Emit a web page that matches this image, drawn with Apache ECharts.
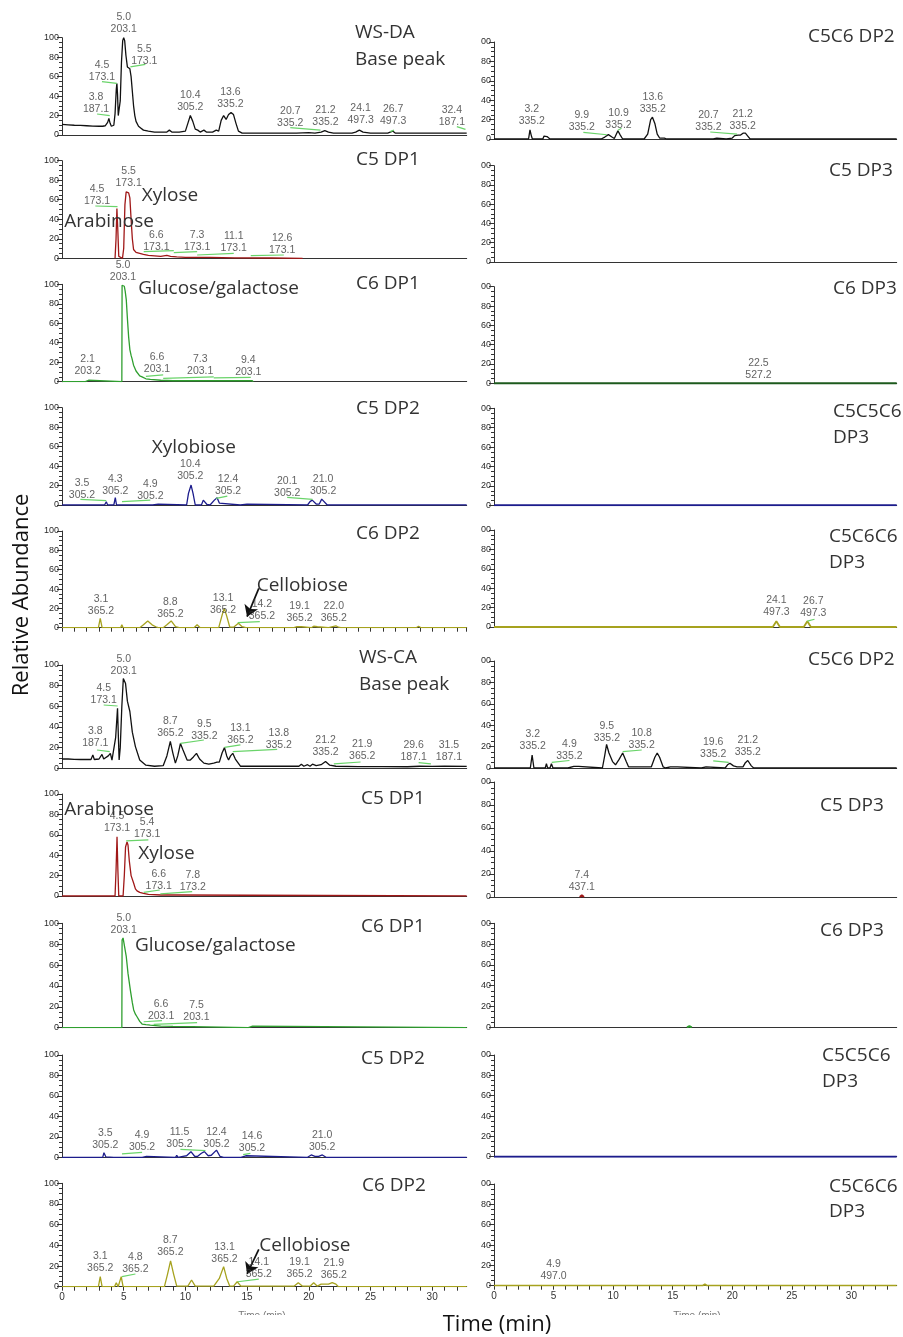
<!DOCTYPE html>
<html><head><meta charset="utf-8">
<script src="https://cdn.jsdelivr.net/npm/echarts@6/dist/echarts.min.js"></script>
<style>html,body{margin:0;padding:0;background:#fff}#c{width:903px;height:1337px}</style>
</head><body><div id="c"></div>
<script>
// ================= DATA (time in min, relative abundance %) =================
// ---- WS-DA (top half) ----
const daBase = [[0,11],[0.5,10.5],[1,10],[1.5,9.8],[2,9.5],[2.5,9.2],[3,9],[3.3,9],[3.4,11],[3.5,9.5],[3.6,10],[3.7,13],[3.8,17],[3.9,12],[4.0,9],[4.2,10],[4.3,22],[4.4,47],[4.45,53],[4.5,42],[4.56,20],[4.62,19],[4.72,35],[4.82,75],[4.92,97],[5.0,100],[5.08,97],[5.18,82],[5.3,70],[5.4,69],[5.5,68],[5.6,60],[5.7,45],[5.8,30],[5.9,20],[6.0,14],[6.2,9],[6.4,7],[6.6,5],[7,4],[7.5,3],[8,3],[8.5,3],[8.7,5],[8.9,3],[9.5,3],[10,4],[10.2,12],[10.4,20],[10.6,14],[10.8,6],[11,5],[11.2,3],[11.5,5],[11.7,3],[12.2,3],[12.5,5],[12.7,4],[12.9,15],[13.1,20],[13.3,16],[13.5,21],[13.7,23],[13.9,21],[14.1,12],[14.3,4],[14.6,2],[15,2],[17,2],[19,2],[20,2.5],[20.5,2],[21,3],[21.3,4.5],[21.6,3],[22,2],[23.5,2],[23.8,3],[24.1,5],[24.4,3],[25,2],[26.4,2],[26.6,3],[26.8,4],[27,2],[29,2],[31,2],[32.8,2]];
const daBaseLabels = [[2.76,32.5,'3.8\n187.1'],[3.24,66,'4.5\n173.1'],[5.0,115,'5.0\n203.1'],[6.67,82.5,'5.5\n173.1'],[10.4,35.3,'10.4\n305.2'],[13.65,38.4,'13.6\n335.2'],[18.5,18.2,'20.7\n335.2'],[21.35,19.9,'21.2\n335.2'],[24.2,21.2,'24.1\n497.3'],[26.84,20.2,'26.7\n497.3'],[31.6,19.5,'32.4\n187.1']];
const daBaseLeaders = [[3.24,54.8,4.45,53],[2.84,21.6,3.87,19.9],[5.54,70,6.76,72.6],[18.5,7.5,20.95,5.1],[26.6,3.5,26.9,5],[32.0,8.6,32.7,5.8]];

const daC5DP1 = [[4.3,0],[4.38,20],[4.45,51],[4.52,30],[4.6,2],[4.75,0],[4.9,0],[5.0,10],[5.1,55],[5.2,68],[5.3,70],[5.4,67],[5.5,62],[5.6,40],[5.7,20],[5.8,9],[6.0,6],[6.3,5],[6.6,4],[7,3],[7.5,2.5],[8,2],[8.5,3],[8.8,2],[9.3,1.5],[10,1],[12,1],[14,0.5],[17,0.3],[19.5,0]];
const daC5DP1Labels = [[2.84,64.8,'4.5\n173.1'],[5.4,82.9,'5.5\n173.1'],[7.65,17.7,'6.6\n173.1'],[10.95,17.7,'7.3\n173.1'],[13.92,16.4,'11.1\n173.1'],[17.84,15,'12.6\n173.1']];
const daC5DP1Leaders = [[2.7,53.6,4.5,52.9],[6.62,6.8,9.06,7.8],[9.06,5.8,10.95,6.8],[10.95,3.4,13.92,5.1],[15.3,2.7,17.98,3.4]];

const daC6DP1 = [[0,0],[1.9,0],[2.0,1.5],[2.15,1.5],[2.25,0],[4.85,0],[4.87,99],[4.95,100],[5.05,98],[5.12,93],[5.21,84],[5.3,65],[5.4,46],[5.5,33],[5.6,27],[5.67,24],[5.8,17],[6.0,11],[6.08,10],[6.3,6],[6.49,5],[6.8,3],[7.16,2.4],[8,1.5],[9,1],[10,1.2],[12,1],[14,1],[15.4,1.2],[15.5,0]];
const daC6DP1Labels = [[4.94,114,'5.0\n203.1'],[2.08,17.1,'2.1\n203.2'],[7.7,18.8,'6.6\n203.1'],[11.2,17.5,'7.3\n203.1'],[15.1,16.4,'9.4\n203.1']];
const daC6DP1Leaders = [[6.8,5.5,8.2,7],[8.2,3.5,12.3,5],[12.3,4,15.3,4.5]];

const daC5DP2 = [[0,0],[3.45,0],[3.59,3.4],[3.7,0],[4.2,0],[4.32,7.5],[4.42,0],[6.65,0],[6.76,2],[6.87,0],[7.35,0],[7.4,1],[7.8,1],[7.85,0],[10.1,0],[10.25,12],[10.46,20.5],[10.62,12],[10.8,0],[11.3,0],[11.45,5],[11.57,6],[11.75,0.5],[12.0,0],[12.35,5],[12.57,7.5],[12.75,2],[12.9,0],[14.45,0],[14.5,1],[15.0,1],[15.05,0],[19.9,0],[20.1,3.5],[20.28,5],[20.6,1],[20.85,1],[21.05,6],[21.2,8],[21.5,0],[32.8,0]];
const daC5DP2Labels = [[1.62,16.8,'3.5\n305.2'],[4.32,20.9,'4.3\n305.2'],[7.16,15.8,'4.9\n305.2'],[10.4,36,'10.4\n305.2'],[13.46,20.2,'12.4\n305.2'],[18.25,18.2,'20.1\n305.2'],[21.16,20.9,'21.0\n305.2']];
const daC5DP2Leaders = [[1.49,5.8,3.59,4.5],[4.86,3.4,7.16,5.1],[12.5,6.8,13.4,9.2],[18.25,7.9,20.3,5.8]];

const daC6DP2 = [[0,0],[2.95,0],[3.1,9.7],[3.25,0],[4.3,0],[4.4,2],[4.5,0],[4.75,0],[4.85,3],[4.95,0],[6.3,0],[6.6,3],[6.95,7],[7.3,3],[7.6,1],[7.8,0],[8.2,0],[8.5,3],[8.85,7],[9.2,1],[9.5,0],[10.7,0],[10.95,3],[11.2,0],[12.7,0],[13.0,14],[13.15,20],[13.35,12],[13.6,0.5],[13.9,0.5],[14.3,4.5],[14.6,1],[14.9,0],[18.8,0],[19.0,1],[19.4,1],[19.5,0],[20.2,0],[20.4,1.5],[20.7,1],[20.8,0],[21.6,0],[21.7,1.5],[22.2,2],[22.4,0.5],[22.6,0],[28.7,0],[28.9,1.5],[29.1,0],[32.8,0]];
const daC6DP2Labels = [[3.16,23.4,'3.1\n365.2'],[8.78,20.7,'8.8\n365.2'],[13.05,24.1,'13.1\n365.2'],[16.2,18.3,'14.2\n365.2'],[19.25,15.9,'19.1\n365.2'],[22.03,16.6,'22.0\n365.2']];
const daC6DP2Leaders = [[14.24,5.2,16.03,6.2]];
const daC6DP2Arrow = [15.95,40.7,15.0,11.4];

const daC5C6DP2 = [[0,0],[2.9,0],[3.02,9.5],[3.12,4],[3.22,0],[3.3,1],[3.4,0],[4.1,0],[4.2,3],[4.3,1],[4.45,2.5],[4.6,1],[4.7,0],[9.0,0],[9.3,2],[9.6,4.5],[9.9,2],[10.1,0.5],[10.4,8.5],[10.6,4],[10.8,0],[12.6,0],[12.9,5],[13.15,20],[13.3,22.5],[13.5,16],[13.7,5],[13.9,1],[14.3,1],[14.5,0],[18.4,0],[18.5,1],[18.7,1],[18.8,0],[19.5,0],[20.0,1],[20.2,3.5],[20.5,4],[20.7,4],[20.9,6],[21.1,6],[21.3,3],[21.5,0],[33.8,0]];
const daC5C6DP2Labels = [[3.17,24.2,'3.2\n335.2'],[7.37,18,'9.9\n335.2'],[10.45,21,'10.9\n335.2'],[13.33,36.9,'13.6\n335.2'],[18.0,18.8,'20.7\n335.2'],[20.87,19.8,'21.2\n335.2']];
const daC5C6DP2Leaders = [[7.5,6.8,9.47,4.4],[10.4,9,10.7,11],[18.15,7.2,20.4,5.1]];
const daC5DP3 = [];
const daC6DP3 = [[0,0],[33.8,0]];
const daC6DP3Labels = [[22.2,14.5,'22.5\n527.2']];
const daC5C5C6DP3 = [[0,0],[33.8,0]];
const daC5C6C6DP3 = [[0,0],[23.4,0],[23.7,6],[24.0,0],[26.0,0],[26.3,6],[26.6,0],[33.8,0]];
const daC5C6C6DP3Labels = [[23.7,21.8,'24.1\n497.3'],[26.8,21,'26.7\n497.3']];
const daC5C6C6DP3Leaders = [[26.3,6,26.9,8]];

// ---- WS-CA (bottom half) ----
const caBase = [[0,9],[0.5,9],[1,8.7],[1.5,8.5],[2,8.5],[2.35,8.5],[2.5,13],[2.62,8.5],[3.0,9],[3.24,13.5],[3.38,9],[3.5,8],[3.75,12],[3.92,14.5],[4.05,8],[4.2,9],[4.35,30],[4.5,58],[4.57,30],[4.63,8],[4.72,20],[4.85,60],[4.97,87],[5.05,86],[5.15,82],[5.3,65],[5.5,55],[5.7,35],[5.95,21],[6.3,8],[6.8,3],[7.5,2],[8.2,2.5],[8.5,12],[8.78,26],[8.98,15],[9.19,5],[9.38,12],[9.6,24],[9.8,18],[10.14,8],[10.4,8],[10.65,11],[10.9,14.5],[11.15,9],[11.5,5],[11.9,4],[12.3,5],[12.57,6],[12.75,6],[12.98,15],[13.17,20],[13.35,12],[13.5,8],[13.66,12],[13.84,14.5],[14.05,9],[14.46,2],[14.8,2],[16,2],[18,2],[19.2,2],[19.4,4],[19.6,2],[19.9,3.5],[20.1,2],[20.3,4],[20.6,2.5],[21.0,3.5],[21.36,6.5],[21.7,3],[22.2,2],[24,1.7],[26,1.7],[28,1.5],[29,2],[30,1.8],[31,2],[32.8,1.8]];
const caBaseLabels = [[2.7,30.6,'3.8\n187.1'],[3.38,71.9,'4.5\n173.1'],[5.0,99.7,'5.0\n203.1'],[8.78,39.4,'8.7\n365.2'],[11.54,36.5,'9.5\n335.2'],[14.46,33.2,'13.1\n365.2'],[17.57,28.4,'13.8\n335.2'],[21.36,21,'21.2\n335.2'],[24.33,17.4,'21.9\n365.2'],[28.5,16.8,'29.6\n187.1'],[31.36,16.8,'31.5\n187.1']];
const caBaseLeaders = [[3.38,61.3,4.51,60.3],[2.84,17.7,3.87,16.1],[9.6,24.2,11.5,27.4],[13.17,20.3,14.46,22.6],[13.84,16.1,17.44,18.4],[22.03,4.2,24.2,6.1],[28.9,5.5,29.9,4.2]];

const caC5DP1 = [[0,0],[4.3,0],[4.38,25],[4.46,58],[4.53,25],[4.6,0],[4.95,0],[5.05,20],[5.15,48],[5.27,53],[5.35,50],[5.45,35],[5.6,20],[5.81,12.5],[5.95,7],[6.08,5],[6.3,3.5],[6.6,2.6],[7,1.5],[8,1],[9.3,1],[9.4,0],[32.8,0]];
const caC5DP1Labels = [[4.46,72,'4.5\n173.1'],[6.9,66.7,'5.4\n173.1'],[7.84,16,'6.6\n173.1'],[10.6,14.5,'7.8\n173.2']];
const caC5DP1Leaders = [[5.2,54,7.0,55],[6.62,3.6,7.92,5.9],[7.97,2,10.55,4.2]];

const caC6DP1 = [[0,0],[4.85,0],[4.87,84],[4.95,86],[5.08,85],[5.21,68],[5.35,52],[5.54,36],[5.7,24],[5.81,17],[5.95,13],[6.08,10.5],[6.3,6],[6.49,3.5],[6.8,3],[7.16,2.5],[8,1.5],[9,1.2],[10.6,1],[10.7,0],[15.1,0],[15.25,1.5],[15.45,1.5],[15.6,0],[32.8,0]];
const caC6DP1Labels = [[5.0,99.5,'5.0\n203.1'],[8.03,17.2,'6.6\n203.1'],[10.9,15.7,'7.5\n203.1']];
const caC6DP1Leaders = [[6.62,5.7,8.1,6.7],[7.43,3.2,10.95,4.8]];

const caC5DP2 = [[0,0],[2.45,0],[2.55,1.5],[2.65,0],[3.3,0],[3.4,4.5],[3.55,0.5],[3.7,0.5],[4.2,0],[4.3,1.5],[4.4,0],[4.75,0],[4.85,1],[4.95,0],[6.5,0],[6.65,1],[6.85,1],[7.0,0],[9.2,0],[9.3,2],[9.4,0],[9.8,1],[10.1,1.5],[10.45,5.5],[10.75,1],[11.0,1],[11.3,4],[11.54,5.5],[11.85,1.5],[12.1,2],[12.52,7],[12.8,1],[13.1,0],[14.5,0],[14.6,1.5],[14.9,1.5],[15.0,0],[19.9,0],[20.2,2.3],[20.5,1],[20.8,1],[21.1,2.3],[21.4,0],[32.8,0]];
const caC5DP2Labels = [[3.51,18.1,'3.5\n305.2'],[6.49,15.6,'4.9\n305.2'],[9.52,18.6,'11.5\n305.2'],[12.52,19.2,'12.4\n305.2'],[15.4,14.8,'14.6\n305.2'],[21.08,16.1,'21.0\n305.2']];
const caC5DP2Leaders = [[4.86,3.3,6.49,4.9],[9.6,7.8,11.63,6.5],[14.68,2.6,15.27,3.9]];

const caC6DP2 = [[0,0],[2.95,0],[3.1,9.7],[3.25,0],[4.25,0],[4.4,3.9],[4.55,0],[4.7,0],[4.8,9.7],[4.95,0],[6.9,0],[7.0,1],[7.15,0],[8.3,0],[8.55,12],[8.8,25],[9.05,12],[9.3,0.5],[10.2,0.5],[10.5,6.5],[10.8,0.5],[11.5,0.5],[12.3,0.5],[12.75,8],[13.1,19.4],[13.35,8],[13.6,0.5],[13.9,0.5],[14.2,4.8],[14.5,0.5],[18.8,0.5],[19.15,3.9],[19.5,0.5],[20.1,0.5],[20.4,3.9],[20.7,0.5],[21.0,2.5],[21.6,2.5],[21.9,4],[22.2,2.5],[22.4,0],[32.8,0]];
const caC6DP2Labels = [[3.1,23.4,'3.1\n365.2'],[5.95,22.6,'4.8\n365.2'],[8.78,39.5,'8.7\n365.2'],[13.17,32.9,'13.1\n365.2'],[15.95,17.7,'14.1\n365.2'],[19.25,18.2,'19.1\n365.2'],[22.03,17.3,'21.9\n365.2']];
const caC6DP2Leaders = [[4.86,9.7,5.95,12.3],[14.24,4.8,15.95,7.4]];
const caC6DP2Arrow = [15.95,36,15.0,12.3];

const caC5C6DP2 = [[0,0],[2.4,0],[2.5,1],[2.6,0],[3.05,0],[3.2,12],[3.35,0],[4.3,0],[4.4,4],[4.5,0],[4.7,0],[4.82,4],[4.95,0],[6.2,0],[6.3,1.5],[6.7,1.5],[6.8,0],[6.9,1.5],[7.1,1.5],[7.2,0],[9.1,0],[9.3,12],[9.45,22],[9.65,14],[9.95,6],[10.2,3],[10.5,8],[10.8,14],[11.1,6],[11.3,1],[13.2,1],[13.5,10],[13.7,14],[13.9,10],[14.2,1],[14.4,0],[14.8,1],[15.4,1],[15.5,0],[17.4,0],[17.5,1],[17.8,1],[17.9,0],[19.4,0],[19.6,3],[19.8,4.5],[20.1,2],[20.4,1],[20.9,1],[21.1,5],[21.3,7],[21.6,2],[21.8,0],[33.8,0]];
const caC5C6DP2Labels = [[3.25,25.7,'3.2\n335.2'],[6.33,16.5,'4.9\n335.2'],[9.47,33.6,'9.5\n335.2'],[12.4,26.9,'10.8\n335.2'],[18.4,18.7,'19.6\n335.2'],[21.3,20.2,'21.2\n335.2']];
const caC5C6DP2Leaders = [[4.85,5.2,6.33,7],[10.8,15.3,12.4,16.8],[18.4,6.7,19.7,5.2]];
const caC5DP3 = [[7.2,0],[7.37,1.5],[7.55,0]];
const caC5DP3Labels = [[7.37,13.9,'7.4\n437.1']];
const caC6DP3 = [[16.2,0],[16.4,1.2],[16.6,0]];
const caC5C5C6DP3 = [[0,0],[33.8,0]];
const caC5C6C6DP3 = [[0,0],[17.5,0],[17.7,1.5],[17.9,0],[33.8,0]];
const caC5C6C6DP3Labels = [[5.0,15,'4.9\n497.0']];

const yTicks = [0,20,40,60,80,100];
const xTickLabels = [0,5,10,15,20,25,30];

// ================= LAYOUT / STYLE =================
const BLACK='#111', RED='#a01818', GREEN='#2f9f2f', BLUE='#1c1c8c', OLIVE='#a6a21e', DKGREEN='#1d5a1d', LEADER='#6ad46a';
const leftRows  = [[37.7,135],[160.7,258.3],[284.3,381.7],[407.7,505],[531,627.7],[665,768.3],[794,896],[923.3,1027.7],[1055,1157.3],[1183.3,1286.7]];
const rightRows = [[42,139],[165.7,262],[286.7,383.3],[408.3,505.3],[530,627],[661,768],[782,897],[923.3,1027.3],[1055,1156.7],[1184,1285.7]];
const LEFT_X=62, LEFT_W=404.7, LEFT_MAX=32.8, RIGHT_X=494, RIGHT_W=402.7, RIGHT_MAX=33.8;

const panels = [
 {c:0,r:0,d:daBase,col:BLACK,lab:daBaseLabels,ld:daBaseLeaders,title:['WS-DA','Base peak'],tx:355,ty:[32.5,60]},
 {c:0,r:1,d:daC5DP1,col:RED,lab:daC5DP1Labels,ld:daC5DP1Leaders,title:['C5 DP1'],tx:356,ty:[160]},
 {c:0,r:2,d:daC6DP1,col:GREEN,lab:daC6DP1Labels,ld:daC6DP1Leaders,title:['C6 DP1'],tx:356,ty:[284]},
 {c:0,r:3,d:daC5DP2,col:BLUE,lab:daC5DP2Labels,ld:daC5DP2Leaders,title:['C5 DP2'],tx:356,ty:[409]},
 {c:0,r:4,d:daC6DP2,col:OLIVE,lab:daC6DP2Labels,ld:daC6DP2Leaders,arrow:daC6DP2Arrow,title:['C6 DP2'],tx:356,ty:[534],ticks:true},
 {c:0,r:5,d:caBase,col:BLACK,lab:caBaseLabels,ld:caBaseLeaders,title:['WS-CA','Base peak'],tx:359,ty:[658,685]},
 {c:0,r:6,d:caC5DP1,col:RED,lab:caC5DP1Labels,ld:caC5DP1Leaders,title:['C5 DP1'],tx:361,ty:[799]},
 {c:0,r:7,d:caC6DP1,col:GREEN,lab:caC6DP1Labels,ld:caC6DP1Leaders,title:['C6 DP1'],tx:361,ty:[927]},
 {c:0,r:8,d:caC5DP2,col:BLUE,lab:caC5DP2Labels,ld:caC5DP2Leaders,title:['C5 DP2'],tx:361,ty:[1059]},
 {c:0,r:9,d:caC6DP2,col:OLIVE,lab:caC6DP2Labels,ld:caC6DP2Leaders,arrow:caC6DP2Arrow,title:['C6 DP2'],tx:362,ty:[1186],ticks:true,xlab:true},
 {c:1,r:0,d:daC5C6DP2,col:BLACK,lab:daC5C6DP2Labels,ld:daC5C6DP2Leaders,title:['C5C6 DP2'],tx:808,ty:[37]},
 {c:1,r:1,d:daC5DP3,col:RED,lab:[],ld:[],title:['C5 DP3'],tx:829,ty:[171]},
 {c:1,r:2,d:daC6DP3,col:DKGREEN,lab:daC6DP3Labels,ld:[],title:['C6 DP3'],tx:833,ty:[289],lw:2.2},
 {c:1,r:3,d:daC5C5C6DP3,col:BLUE,lab:[],ld:[],title:['C5C5C6','DP3'],tx:833,ty:[412,438],lw:2},
 {c:1,r:4,d:daC5C6C6DP3,col:OLIVE,lab:daC5C6C6DP3Labels,ld:daC5C6C6DP3Leaders,title:['C5C6C6','DP3'],tx:829,ty:[537,563],lw:1.8},
 {c:1,r:5,d:caC5C6DP2,col:BLACK,lab:caC5C6DP2Labels,ld:caC5C6DP2Leaders,title:['C5C6 DP2'],tx:808,ty:[660]},
 {c:1,r:6,d:caC5DP3,col:RED,lab:caC5DP3Labels,ld:[],title:['C5 DP3'],tx:820,ty:[806],lw:2},
 {c:1,r:7,d:caC6DP3,col:GREEN,lab:[],ld:[],title:['C6 DP3'],tx:820,ty:[931],lw:2},
 {c:1,r:8,d:caC5C5C6DP3,col:BLUE,lab:[],ld:[],title:['C5C5C6','DP3'],tx:822,ty:[1056,1082],lw:2},
 {c:1,r:9,d:caC5C6C6DP3,col:OLIVE,lab:caC5C6C6DP3Labels,ld:[],title:['C5C6C6','DP3'],tx:829,ty:[1187,1212],ticks:true,xlab:true,lw:1.8}
];
const nameTags = [
 ['Xylose',141.7,195.7],['Arabinose',64.3,221.7],['Glucose/galactose',138.3,288.5],['Xylobiose',151.7,447.5],['Cellobiose',256.7,585.7],
 ['Arabinose',64.3,809.5],['Xylose',138.3,854],['Glucose/galactose',135,946],['Cellobiose',259.3,1246]
];

const TITLE_FONT = '19px "Open Sans", "Noto Sans", sans-serif';
const SMALL_FONT = '"Liberation Sans", Arial, sans-serif';

const grid=[], xAxis=[], yAxis=[], series=[], graphics=[];
panels.forEach((p,i)=>{
  const rows = p.c===0 ? leftRows : rightRows;
  const [top,bot] = rows[p.r];
  grid.push({left: p.c===0?LEFT_X:RIGHT_X, top: top, width: p.c===0?LEFT_W:RIGHT_W, height: bot-top, containLabel:false});
  xAxis.push({type:'value', gridIndex:i, min:0, max: p.c===0?LEFT_MAX:RIGHT_MAX, interval:1,
    axisLine:{show:true,onZero:false,lineStyle:{color:'#333',width:1}},
    axisTick:{show:!!p.ticks,length:4,lineStyle:{color:'#333',width:1}},
    axisLabel:{show:!!p.xlab,fontSize:10,color:'#333',margin:6,fontFamily:SMALL_FONT,showMaxLabel:false,
      formatter:v=> xTickLabels.indexOf(v)>=0 ? String(v) : ''},
    splitLine:{show:false}});
  yAxis.push({type:'value', gridIndex:i, min:0, max:100, interval:20,
    axisLine:{show:true,lineStyle:{color:'#333',width:1}},
    axisTick:{show:true,length:5,lineStyle:{color:'#333'}},
    minorTick:{show:true,splitNumber:4,length:3,lineStyle:{color:'#333'}},
    axisLabel:{fontSize:9,color:'#2a2a2a',margin:3,fontFamily:SMALL_FONT,
      formatter:v=> (p.c===1 && v===100) ? '00' : (yTicks.indexOf(v)>=0? String(v):'')},
    splitLine:{show:false}});
  series.push({type:'line', xAxisIndex:i, yAxisIndex:i, data:p.d, showSymbol:false, symbol:'none',
    lineStyle:{color:p.col,width:p.lw||1.3}, itemStyle:{color:p.col}, silent:true, animation:false, z:3,
    markLine: p.ld.length ? {silent:true, symbol:['none','none'], animation:false, label:{show:false},
      lineStyle:{color:LEADER,width:1.2,type:'solid'},
      data:p.ld.map(l=>[{coord:[l[0],l[1]]},{coord:[l[2],l[3]]}])} : undefined});
  series.push({type:'scatter', xAxisIndex:i, yAxisIndex:i, clip:false, symbolSize:0, silent:true, animation:false, z:6,
    data:p.lab.map(l=>({value:[l[0],l[1]],name:l[2]})),
    label:{show:true,position:'inside',formatter:q=>q.name,fontSize:10.5,lineHeight:12,color:'#3a3a3a',fontFamily:SMALL_FONT}});
  if (p.arrow) {
    series.push({type:'line', xAxisIndex:i, yAxisIndex:i, data:[], silent:true, animation:false, z:7,
      markLine:{silent:true, symbol:['none','arrow'], symbolSize:11, animation:false, label:{show:false},
        itemStyle:{color:'#111'}, lineStyle:{color:'#111',width:1.7,type:'solid'},
        data:[[{coord:[p.arrow[0],p.arrow[1]]},{coord:[p.arrow[2],p.arrow[3]]}]]}});
  }
  p.title.forEach((t,k)=>{
    graphics.push({type:'text', x:p.tx, y:p.ty[k], silent:true, z:10,
      style:{text:t, fill:'#333', font:TITLE_FONT, align:'left', verticalAlign:'middle', textAlign:'left', textVerticalAlign:'middle'}});
  });
});
nameTags.forEach(n=>{
  graphics.push({type:'text', x:n[1], y:n[2], silent:true, z:10,
    style:{text:n[0], fill:'#333', font:TITLE_FONT, align:'left', verticalAlign:'middle', textAlign:'left', textVerticalAlign:'middle'}});
});
graphics.push({type:'text', x:22, y:595, rotation:Math.PI/2, silent:true,
  style:{text:'Relative Abundance', fill:'#111', font:'22px "Open Sans", "Noto Sans", sans-serif', align:'center', verticalAlign:'middle', textAlign:'center', textVerticalAlign:'middle'}});
graphics.push({type:'text', x:497, y:1325, silent:true,
  style:{text:'Time (min)', fill:'#111', font:'22px "Open Sans", "Noto Sans", sans-serif', align:'center', verticalAlign:'middle', textAlign:'center', textVerticalAlign:'middle'}});
// clipped software axis names under each bottom axis (only top part visible)
[[262,1316],[697,1316]].forEach(pt=>{
  graphics.push({type:'text', x:pt[0], y:pt[1], silent:true, z:1,
    style:{text:'Time (min)', fill:'#777', font:'10px "Liberation Sans", Arial, sans-serif', align:'center', verticalAlign:'middle', textAlign:'center', textVerticalAlign:'middle'}});
  graphics.push({type:'rect', shape:{x:pt[0]-35,y:pt[1]-1,width:70,height:12}, style:{fill:'#fff'}, silent:true, z:2});
});

const chart = echarts.init(document.getElementById('c'), null, {renderer:'canvas'});
chart.setOption({animation:false, backgroundColor:'#fff', grid, xAxis, yAxis, series, graphic:{elements:graphics}});
</script></body></html>
